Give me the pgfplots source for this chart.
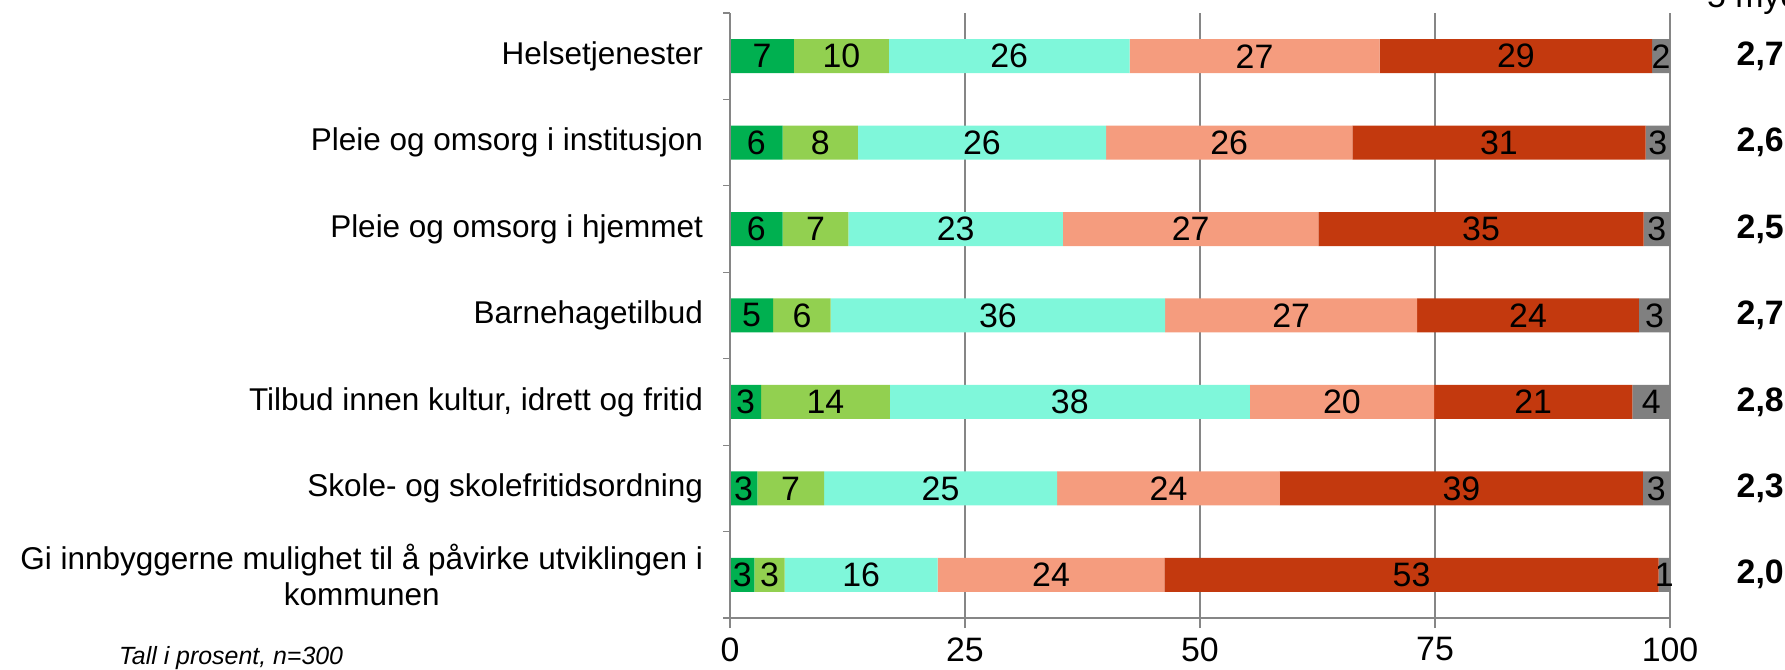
\documentclass[border=0pt]{standalone}
\usepackage{fontspec}
\setmainfont{Liberation Sans}
\usepackage{pgfplots}
\usepackage{pgfplotstable}
\pgfplotsset{compat=1.18}
\definecolor{c1}{HTML}{00B050}
\definecolor{c2}{HTML}{92D050}
\definecolor{c3}{HTML}{7FF7DA}
\definecolor{c4}{HTML}{F59C7E}
\definecolor{c5}{HTML}{C3390E}
\definecolor{c6}{HTML}{808080}
\definecolor{axisgray}{HTML}{868686}
\newcommand{\fs}{\fontsize{15.8}{18.3}\selectfont}
\newcommand{\fb}{\fontsize{17}{19}\selectfont}

\pgfplotstableread{
y a b c d e f
0 2.6 3.2 16.3 24.1 52.6 1.2
1 2.9 7.1 24.8 23.7 38.6 2.9
2 3.3 13.7 38.3 19.6 21.1 4.0
3 4.6 6.1 35.6 26.8 23.6 3.3
4 5.6 7.0 22.8 27.2 34.6 2.8
5 5.6 8.0 26.4 26.2 31.2 2.6
6 6.8 10.1 25.6 26.6 29.0 1.9
}\datatable

\pgfplotstableread{
x y lab
3.4 6 7
11.85 6 10
29.7 6 26
55.8 6 27
83.6 6 29
99.05 6 2
2.8 5 6
9.6 5 8
26.8 5 26
53.1 5 26
81.8 5 31
98.7 5 3
2.8 4 6
9.1 4 7
24.0 4 23
49.0 4 27
79.9 4 35
98.6 4 3
2.3 3 5
7.65 3 6
28.5 3 36
59.7 3 27
84.9 3 24
98.35 3 3
1.65 2 3
10.15 2 14
36.15 2 38
65.1 2 20
85.45 2 21
98.0 2 4
1.45 1 3
6.45 1 7
22.4 1 25
46.65 1 24
77.8 1 39
98.55 1 3
1.3 0 3
4.2 0 3
13.95 0 16
34.15 0 24
72.5 0 53
99.4 0 1
}\labtable

\pgfplotstableread{
x y lab
109.6 6 2,7
109.6 5 2,6
109.6 4 2,5
109.6 3 2,7
109.6 2 2,8
109.6 1 2,3
109.6 0 2,0
}\meantable

\begin{document}
\begin{tikzpicture}[x=1bp,y=1bp]
\begin{axis}[
  at={(365bp,26bp)}, anchor=south west,
  width=470bp, height=302.5bp, scale only axis,
  xbar stacked, bar width=17bp,
  xmin=0, xmax=100, ymin=-0.5, ymax=6.5,
  axis x line*=bottom, axis y line*=left,
  axis line style={draw=axisgray, line width=0.75bp},
  xtick={0,25,50,75,100},
  xmajorgrids, major grid style={draw=axisgray, line width=0.6bp},
  tick align=outside, major tick length=5bp,
  xtick style={draw=axisgray, line width=0.6bp},
  ytick={0,...,6}, ytick style={draw=none},
  yticklabels={{Gi innbyggerne mulighet til å påvirke utviklingen i\\kommunen},
    Skole- og skolefritidsordning,
    {Tilbud innen kultur, idrett og fritid},
    Barnehagetilbud,
    Pleie og omsorg i hjemmet,
    Pleie og omsorg i institusjon,
    Helsetjenester},
  yticklabel style={align=center, font=\fs, xshift=-5bp},
  xticklabel style={font=\fb, yshift=-3.5bp, inner sep=1bp},
  /pgf/number format/assume math mode=true,
  clip=false,
]
\addplot[fill=c1, draw=none] table[x=a, y=y] {\datatable};
\addplot[fill=c2, draw=none] table[x=b, y=y] {\datatable};
\addplot[fill=c3, draw=none] table[x=c, y=y] {\datatable};
\addplot[fill=c4, draw=none] table[x=d, y=y] {\datatable};
\addplot[fill=c5, draw=none] table[x=e, y=y] {\datatable};
\addplot[fill=c6, draw=none] table[x=f, y=y] {\datatable};
\end{axis}
\begin{axis}[
  at={(365bp,26bp)}, anchor=south west,
  width=470bp, height=302.5bp, scale only axis,
  xmin=0, xmax=100, ymin=-0.5, ymax=6.5,
  hide x axis, axis y line*=left,
  axis line style={draw=axisgray, line width=0.75bp},
  ytick={-0.5,0.5,...,6.5}, yticklabels={},
  tick align=outside, major tick length=3.5bp,
  ytick style={draw=axisgray, line width=0.6bp},
  clip=false,
]
\addplot[only marks, mark=none, nodes near coords, point meta=explicit symbolic,
  every node near coord/.append style={anchor=center, font=\fb, inner sep=0pt}]
  table[x=x, y=y, meta=lab] {\labtable};
\addplot[only marks, mark=none, nodes near coords, point meta=explicit symbolic,
  every node near coord/.append style={anchor=center, font=\fb\bfseries, inner sep=0pt}]
  table[x=x, y=y, meta=lab] {\meantable};
\end{axis}
\node[anchor=base west, font=\fb] at (850bp, 331bp) {5 mye bedre};
\node[anchor=base west, font=\fontsize{12.5}{14}\selectfont\itshape] at (56bp, 3bp) {Tall i prosent, n=300};
\pgfresetboundingbox
\path[use as bounding box] (0,0) rectangle (892.5bp,335bp);
\end{tikzpicture}
\end{document}
